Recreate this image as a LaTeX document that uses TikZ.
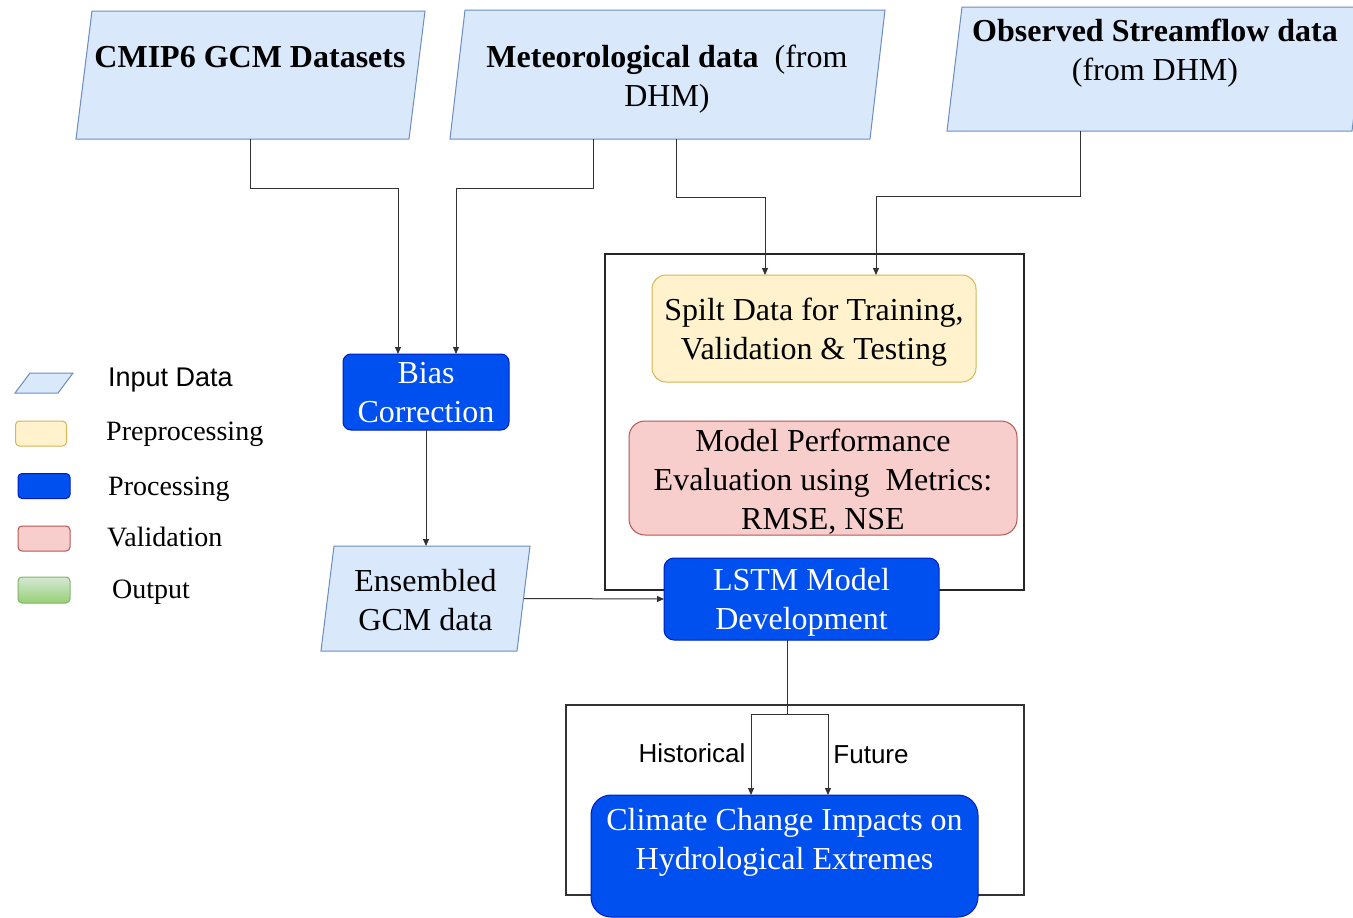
\documentclass[tikz,border=0pt]{standalone}
\usepackage{fontspec}
\setmainfont{Liberation Serif}
\setsansfont{Liberation Sans}
\usetikzlibrary{arrows.meta,calc}
\definecolor{inblue}{HTML}{DAE8FC}
\definecolor{inbord}{HTML}{6C8EBF}
\definecolor{procfill}{HTML}{0050EF}
\definecolor{procbord}{HTML}{001DBC}
\definecolor{prefill}{HTML}{FFF2CC}
\definecolor{prebord}{HTML}{D6B656}
\definecolor{valfill}{HTML}{F8CECC}
\definecolor{valbord}{HTML}{B85450}
\definecolor{outtop}{HTML}{D5E8D4}
\definecolor{outbot}{HTML}{97D077}
\definecolor{outbord}{HTML}{82B366}
\newcommand{\bigtxt}{\fontsize{32}{39}\selectfont}
\newcommand{\legtxt}{\fontsize{28}{33}\selectfont}
\newcommand{\paral}[2]{\filldraw[inbox] ($(#1.north west)+(#2,0)$) -- (#1.north east) -- ($(#1.south east)+(-#2,0)$) -- (#1.south west) -- cycle;}
\tikzset{
  inbox/.style={fill=inblue, draw=inbord, line width=1pt},
  shapebox/.style={rectangle, draw=none, inner sep=0pt, outer sep=0pt},
  procbox/.style={shapebox, rounded corners=10pt, fill=procfill, draw=procbord, line width=1pt},
  prebox/.style={shapebox, rounded corners=14pt, fill=prefill, draw=prebord, line width=1pt},
  valbox/.style={shapebox, rounded corners=16pt, fill=valfill, draw=valbord, line width=1pt},
  txt/.style={inner sep=0pt, align=center, font=\bigtxt},
  wtxt/.style={txt, text=white},
  frame/.style={draw=black!85, line width=2pt},
  arr/.style={draw=black!80, line width=1pt, -{Triangle[length=7pt,width=6pt]}},
  conn/.style={draw=black!80, line width=1pt},
  leg/.style={anchor=base west, inner sep=0pt, font=\legtxt},
  lab/.style={inner sep=0pt, font=\sffamily\fontsize{26}{30}\selectfont},
}
\begin{document}
\begin{tikzpicture}[x=1pt,y=-1pt]
\useasboundingbox (0,0) rectangle (1353,918);
\fill[white] (0,0) rectangle (1353,918);

% frames
\node[shapebox, frame, minimum width=419pt, minimum height=336pt] (frameA) at (814.5,422) {};
\node[shapebox, draw=black!80, line width=2pt, minimum width=458pt, minimum height=190pt] (frameB) at (795,800) {};

% input parallelograms
\node[shapebox, minimum width=349pt, minimum height=128pt] (cmip) at (250.5,75) {};
\paral{cmip}{16}
\node[txt, font=\bigtxt\bfseries] (cmipt) at (250,57) {CMIP6 GCM Datasets};

\node[shapebox, minimum width=435pt, minimum height=129pt] (met) at (667.5,74.5) {};
\paral{met}{15}
\node[txt] (mett) at (667,79) {\textbf{Meteorological data}\ \ (from\\DHM)};

\node[shapebox, minimum width=420pt, minimum height=124pt] (obs) at (1157,69) {};
\paral{obs}{15}
\node[txt] (obst) at (1155,53) {\textbf{Observed Streamflow data}\\(from DHM)};

\node[shapebox, minimum width=209pt, minimum height=105pt] (ens) at (425.5,598.5) {};
\paral{ens}{13}
\node[txt] (enst) at (425.5,600) {Ensembled\\GCM data};

% process boxes
\node[procbox, rounded corners=8pt, minimum width=166pt, minimum height=76pt] (bias) at (426,392) {};
\node[wtxt] (biast) at (426,393) {Bias\\Correction};
\node[prebox, minimum width=324pt, minimum height=107pt] (split) at (814,328.5) {};
\node[txt] (splitt) at (814,332.5) {Spilt Data for Training,\\Validation \& Testing};
\node[valbox, minimum width=388pt, minimum height=114pt] (eval) at (823,478) {};
\node[txt] (evalt) at (823,482) {Model Performance\\Evaluation using\ \ Metrics:\\RMSE, NSE};
\node[procbox, minimum width=275pt, minimum height=82pt] (lstm) at (801.5,599) {};
\node[wtxt] (lstmt) at (801.5,602) {LSTM Model\\Development};
\node[procbox, rounded corners=20pt, minimum width=387pt, minimum height=122pt] (clim) at (784.5,856) {};
\node[wtxt] (climt) at (784.5,842) {Climate Change Impacts on\\Hydrological Extremes};

% connectors
\draw[arr] (cmip.south) -- ++(0,49) -| ([xshift=-28pt]bias.north);
\draw[arr] ([xshift=-74.5pt]met.south) -- ++(0,49) -| ([xshift=30pt]bias.north);
\draw[arr] ([xshift=8.5pt]met.south) -- ++(0,58) -| ([xshift=-49pt]split.north);
\draw[arr] ([xshift=-77pt]obs.south) -- ++(0,65) -| ([xshift=62pt]split.north);
\draw[arr] (bias.south) -- (bias.south |- ens.north);
\draw[arr] ([xshift=-6pt]ens.east) -- (lstm.west);
\coordinate (fork) at ([xshift=-14.5pt,yshift=-74pt]lstm.south);
\draw[conn] ([xshift=-14.5pt]lstm.south) -- (fork);
\draw[arr] (fork) -| ([xshift=-33.5pt]clim.north);
\draw[arr] (fork) -| ([xshift=43.5pt]clim.north);
\node[lab] (hist) at (692,753) {Historical};
\node[lab] (fut) at (871,755) {Future};

% legend
\filldraw[inbox] (30,373) -- (73,373) -- (58,393) -- (15,393) -- cycle;
\node[shapebox] (legin) at (44,383) {};
\node[leg, font=\sffamily\fontsize{27}{32}\selectfont] (legint) at (108,386) {Input Data};
\node[shapebox, rounded corners=4pt, fill=prefill, draw=prebord, line width=1pt, minimum width=51pt, minimum height=25pt] (legpre) at (41,433.5) {};
\node[leg] (legpret) at (106,440) {Preprocessing};
\node[shapebox, rounded corners=4pt, fill=procfill, draw=procbord, line width=1pt, minimum width=52pt, minimum height=25pt] (legproc) at (44,486) {};
\node[leg] (legproct) at (108,495) {Processing};
\node[shapebox, rounded corners=4pt, fill=valfill, draw=valbord, line width=1pt, minimum width=52pt, minimum height=25pt] (legval) at (44,538.5) {};
\node[leg] (legvalt) at (107,546) {Validation};
\node[shapebox, rounded corners=4pt, top color=outtop, bottom color=outbot, draw=outbord, line width=1pt, minimum width=52pt, minimum height=26pt] (legout) at (44,590) {};
\node[leg] (legoutt) at (112,598) {Output};
\end{tikzpicture}
\end{document}
